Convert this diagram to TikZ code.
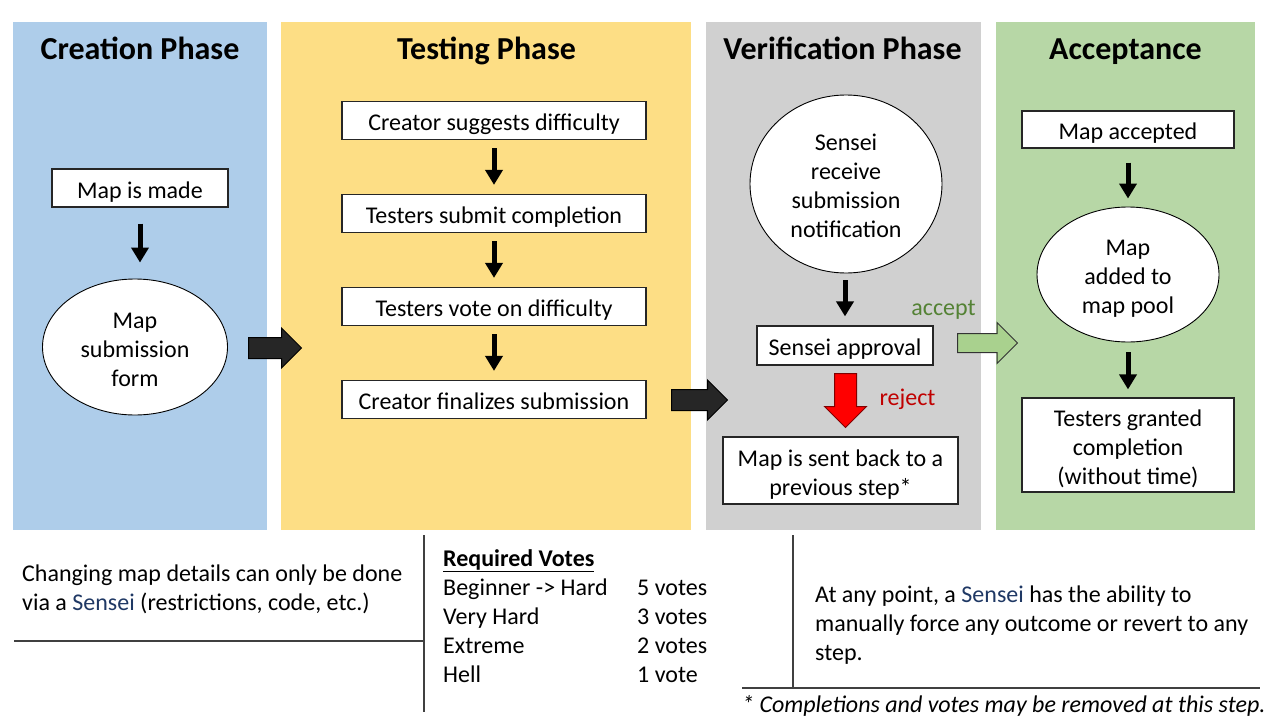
\documentclass[tikz,border=0pt]{standalone}
\usepackage{fontspec}
\setmainfont{Carlito}
\usepackage{xcolor}
\usepackage{tikz}
\usetikzlibrary{shapes.geometric}
\usetikzlibrary{shapes.arrows}
\usetikzlibrary{arrows.meta}

\definecolor{creablue}{HTML}{AECDEA}
\definecolor{testyellow}{HTML}{FDDE85}
\definecolor{vergrey}{HTML}{D0D0D0}
\definecolor{accgreen}{HTML}{B7D7A6}
\definecolor{senseiblue}{HTML}{1F3864}
\definecolor{okgreen}{HTML}{548235}
\definecolor{nored}{HTML}{C00000}
\definecolor{arrowgrey}{HTML}{262626}
\definecolor{okarrow}{HTML}{A9D18E}

\newcommand{\txt}{\fontsize{24}{29}\selectfont}
\newcommand{\ttl}{\fontsize{32}{38}\selectfont\bfseries}
\newcommand{\lh}{\rule[-6pt]{0pt}{32.5pt}}
\newcommand{\lht}{\rule{0pt}{26.5pt}}
\newcommand{\lhb}{\rule[-6pt]{0pt}{6pt}}

\tikzset{
  title/.style={font=\ttl, inner sep=0pt, anchor=base},
  box/.style={draw=black!85, line width=1.2pt, fill=white, align=center, font=\txt, inner sep=1pt,
    execute at begin node=\lh, execute at end node=\lh},
  bubble/.style={ellipse, draw=black, line width=0.9pt, fill=white, align=center, font=\txt, inner sep=0pt},
  flow/.style={line width=5pt, -{Triangle[length=15pt, width=17pt]}},
  bigarrow/.style={single arrow, draw=black, line width=1pt, fill=arrowgrey, inner sep=10pt, single arrow head extend=9.5pt, single arrow tip angle=90},
  note/.style={font=\txt, align=left, inner sep=0pt},
  divider/.style={draw=black!75, line width=1.2pt}
}

\begin{document}
\begin{tikzpicture}[x=1pt, y=-1pt]
    \useasboundingbox (0,0) rectangle (1280,720);

    \fill[creablue] (13,22) rectangle (267,530);
    \fill[testyellow] (281,22) rectangle (691,530);
    \fill[vergrey] (706,22) rectangle (981,530);
    \fill[accgreen] (996,22) rectangle (1255,530);

    \node[title] (tcrea) at (140,59) {Creation Phase};
    \node[title] (ttest) at (486.5,59) {Testing Phase};
    \node[title] (tver) at (842.5,59) {Verification Phase};
    \node[title] (tacc) at (1125.5,59) {Acceptance};

    \node[box, minimum width=176, minimum height=38] (made) at (140,188) {Map is made};
    \node[bubble, minimum width=185, minimum height=136] (form) at (135,347) {\lht Map\\submission\\form\lhb};
    \draw[flow, shorten <=16pt, shorten >=16pt] (made.south) -- (made.south |- form.north);

    \node[box, minimum width=304, minimum height=38] (suggest) at (494,120.5) {Creator suggests difficulty};
    \node[box, minimum width=304, minimum height=38] (submit) at (494,213.5) {Testers submit completion};
    \node[box, minimum width=304, minimum height=38] (vote) at (494,306.5) {Testers vote on difficulty};
    \node[box, minimum width=304, minimum height=38] (final) at (494,399.5) {Creator finalizes submission};
    \draw[flow, shorten <=8pt, shorten >=9pt] (suggest) -- (submit);
    \draw[flow, shorten <=8pt, shorten >=9pt] (submit) -- (vote);
    \draw[flow, shorten <=8pt, shorten >=9pt] (vote) -- (final);

    \node[bubble, minimum width=192, minimum height=178] (notify) at (846,184) {\lht Sensei\\receive\\submission\\notification\lhb};
    \node[box, minimum width=176, minimum height=39] (approve) at (845,345.5) {Sensei approval};
    \node[box, minimum width=235, minimum height=67] (back) at (840.5,470.5) {\lht Map is sent back to a\\previous step*\lhb};
    \draw[flow, shorten <=7pt, shorten >=9pt] (notify.south -| approve.north) -- (approve.north);

    \node[box, minimum width=212, minimum height=37] (accepted) at (1128,129.5) {Map accepted};
    \node[bubble, minimum width=182, minimum height=135] (pool) at (1128,274.5) {\lht Map\\added to\\map pool\lhb};
    \node[box, minimum width=212, minimum height=94] (granted) at (1128,445) {\lht Testers granted\\completion\\(without time)\lhb};
    \draw[flow, shorten <=14pt, shorten >=8pt] (accepted) -- (pool);
    \draw[flow, shorten <=10pt, shorten >=8pt] (pool) -- (granted);

    \node[bigarrow, minimum height=53, anchor=tail] (go1) at (248,348) {};
    \node[bigarrow, minimum height=56, anchor=tail] (go2) at (671,400) {};
    \node[bigarrow, fill=red, draw=red!50!black, inner sep=10.5pt, single arrow head extend=10pt, minimum height=54, shape border rotate=270, anchor=tail] (down) at (845.5,373) {};
    \node[bigarrow, fill=okarrow, draw=black!80, inner sep=9pt, single arrow head extend=11pt, minimum height=60, anchor=tail] (go3) at (957,343) {};
    \node[font=\txt, text=okgreen, anchor=base, inner sep=0pt] (acc) at (943.5,315) {accept};
    \node[font=\txt, text=nored, anchor=base, inner sep=0pt] (rej) at (907.5,405) {reject};

    \draw[divider] (424,535) -- (424,712);
    \draw[divider] (14,641) -- (424,641);
    \draw[divider] (793,535) -- (793,688);
    \draw[divider] (742,688) -- (1260,688);

    \node[note, anchor=west] (rule) at (22,589.5) {Changing map details can only be done\\via a \textcolor{senseiblue}{Sensei} (restrictions, code, etc.)};

    \node[note, anchor=base west] (votes) at (443,566) {\underline{\textbf{Required Votes}}};
    \foreach \lvl/\cnt [count=\i] in {Beginner -> Hard/5 votes, Very Hard/3 votes, Extreme/2 votes, Hell/1 vote} {
        \node[note, anchor=base west] (lvl\i) at (443,566+29*\i) {\lvl};
        \node[note, anchor=base west] (cnt\i) at (637,566+29*\i) {\cnt};
    }

    \node[note, anchor=west] (force) at (815,625) {At any point, a \textcolor{senseiblue}{Sensei} has the ability to\\manually force any outcome or revert to any\\step.};
    \node[note, font=\txt\itshape, anchor=west] (foot) at (742,706) {* Completions and votes may be removed at this step.};
\end{tikzpicture}
\end{document}
